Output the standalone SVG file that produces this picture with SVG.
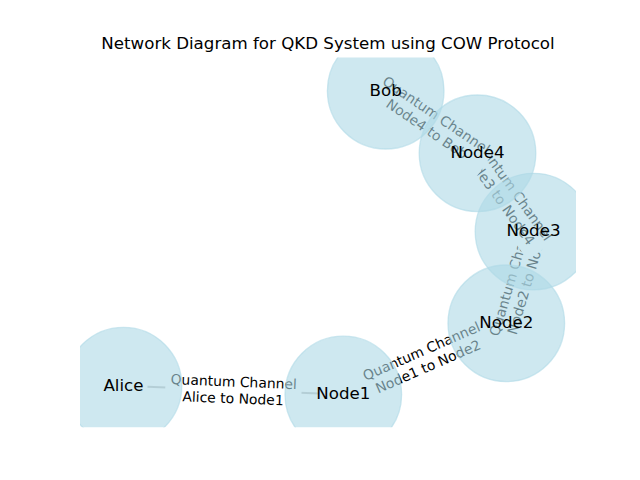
<svg xmlns="http://www.w3.org/2000/svg" width="640" height="480" viewBox="0 0 640 480">
<style>
.title{font-family:"DejaVu Sans",sans-serif;font-size:16.67px;fill:#000;text-anchor:middle}
.nlabel{font-family:"DejaVu Sans",sans-serif;font-size:16.67px;fill:#000;text-anchor:middle}
.elabel{font-family:"DejaVu Sans",sans-serif;font-size:13.9px;fill:#000;text-anchor:middle}
.ebox{fill:#ffffff;stroke:#ffffff;stroke-width:1.3}
.edge{stroke:#808080;stroke-opacity:0.5;stroke-width:2;fill:none}
.node{fill:#add8e6;fill-opacity:0.6;stroke:#add8e6;stroke-opacity:0.6;stroke-width:1.33}
</style>
<defs>
<clipPath id="axes"><rect x="80" y="57.6" width="496" height="369.6"/></clipPath>
</defs>
<rect width="640" height="480" fill="#ffffff"/>
<text class="title" x="328" y="49">Network Diagram for QKD System using COW Protocol</text>
<g id="connectors">
<line class="edge" x1="147.5" y1="386.7" x2="319.3" y2="393.5"/>
<line class="edge" x1="365.3" y1="384.9" x2="484.3" y2="332.9"/>
<line class="edge" x1="513.1" y1="300.3" x2="526.7" y2="254.6"/>
<line class="edge" x1="519.5" y1="212.1" x2="491.5" y2="172.8"/>
<line class="edge" x1="457.7" y1="139.8" x2="405.5" y2="104.2"/>
<g id="label-alice-node1" transform="translate(233.4,390.1) rotate(2.29)">
<rect class="ebox" x="-67.5" y="-20.6" width="135" height="41.2" rx="4"/>
<text class="elabel" y="-3.5">Quantum Channel</text>
<text class="elabel" y="13.2">Alice to Node1</text>
</g>
<g id="label-node1-node2" transform="translate(424.8,358.9) rotate(-23.6)">
<rect class="ebox" x="-67.5" y="-20.6" width="135" height="41.2" rx="4"/>
<text class="elabel" y="-3.5">Quantum Channel</text>
<text class="elabel" y="13.2">Node1 to Node2</text>
</g>
<g id="label-node2-node3" transform="translate(519.9,277.5) rotate(-73.5)">
<rect class="ebox" x="-67.5" y="-20.6" width="135" height="41.2" rx="4"/>
<text class="elabel" y="-3.5">Quantum Channel</text>
<text class="elabel" y="13.2">Node2 to Node3</text>
</g>
<g id="label-node3-node4" transform="translate(505.5,192.5) rotate(54.4)">
<rect class="ebox" x="-67.5" y="-20.6" width="135" height="41.2" rx="4"/>
<text class="elabel" y="-3.5">Quantum Channel</text>
<text class="elabel" y="13.2">Node3 to Node4</text>
</g>
<g id="label-node4-bob" transform="translate(431.6,122) rotate(34.3)">
<rect class="ebox" x="-67.5" y="-20.6" width="135" height="41.2" rx="4"/>
<text class="elabel" y="-3.5">Quantum Channel</text>
<text class="elabel" y="13.2">Node4 to Bob</text>
</g>
</g>
<g id="node-alice"><circle class="node" cx="123.5" cy="385.7" r="58.3" clip-path="url(#axes)"/><text class="nlabel" x="123.5" y="390.5">Alice</text></g>
<g id="node-node1"><circle class="node" cx="343.3" cy="394.5" r="58.3" clip-path="url(#axes)"/><text class="nlabel" x="343.3" y="399.3">Node1</text></g>
<g id="node-node2"><circle class="node" cx="506.3" cy="323.3" r="58.3" clip-path="url(#axes)"/><text class="nlabel" x="506.3" y="328.1">Node2</text></g>
<g id="node-node3"><circle class="node" cx="533.5" cy="231.6" r="58.3" clip-path="url(#axes)"/><text class="nlabel" x="533.5" y="236.4">Node3</text></g>
<g id="node-node4"><circle class="node" cx="477.5" cy="153.3" r="58.3" clip-path="url(#axes)"/><text class="nlabel" x="477.5" y="158.1">Node4</text></g>
<g id="node-bob"><circle class="node" cx="385.7" cy="90.7" r="58.3" clip-path="url(#axes)"/><text class="nlabel" x="385.7" y="95.5">Bob</text></g>
</svg>
